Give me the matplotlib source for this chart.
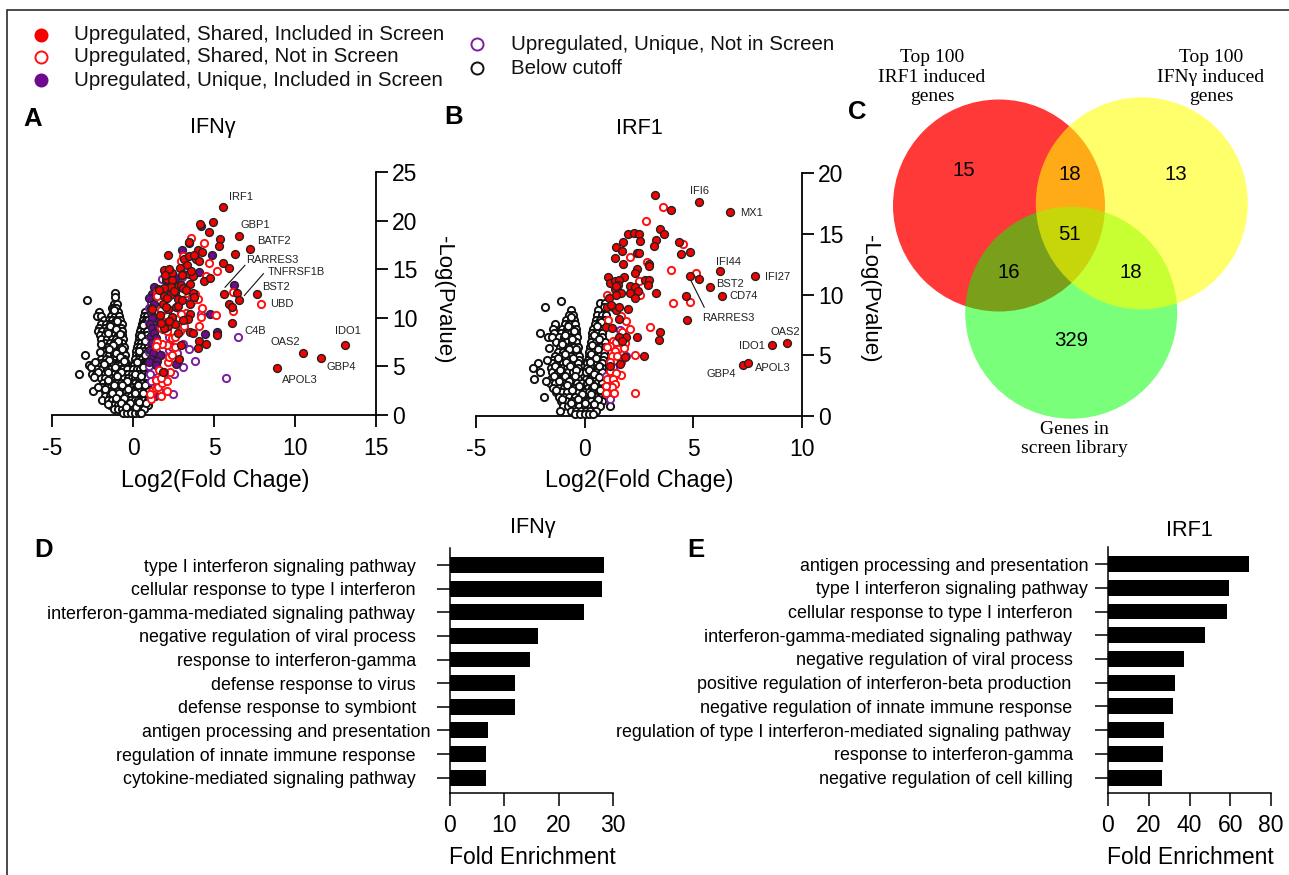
"""Volcano plots, Venn diagram and GO enrichment bars for IFNy / IRF1."""

import matplotlib
matplotlib.use("Agg")
import matplotlib.pyplot as plt
from matplotlib.patches import Circle

plt.rcParams["font.family"] = ["Liberation Sans", "DejaVu Sans"]
plt.rcParams["axes.unicode_minus"] = False

FIG_W, FIG_H = 1289, 875
RED, PURPLE = "#f80000", "#6f0a8f"

# ---- panel A: values
a_red_filled = [
    (5.55, 21.4), (4.16, 19.65), (4.92, 19.9), (4.69, 18.86), (6.52, 18.4), (5.35, 18.1), (3.46, 17.7),
    (5.29, 17.4), (4.03, 17.0), (2.18, 16.5), (7.22, 17.05), (4.28, 16.8), (6.3, 16.6), (3.13, 16.0),
    (3.44, 16.4), (3.89, 16.0), (4.07, 15.8), (3.31, 15.4), (2.9, 15.1), (1.91, 14.9), (2.39, 14.6),
    (3.1, 14.5), (3.46, 14.5), (3.68, 14.3), (2.08, 14.0), (2.43, 13.9), (4.38, 13.75), (4.75, 14.05),
    (3.54, 13.5), (2.76, 13.3), (2.33, 13.2), (1.93, 13.1), (2.6, 12.7), (1.93, 12.2), (5.58, 15.6),
    (5.95, 15.1), (3.48, 17.75), (3.75, 16.5), (2.2, 15.0), (3.0, 14.4), (3.6, 14.8), (2.0, 14.45),
    (2.95, 13.4), (2.3, 12.3), (3.1, 13.1), (3.72, 12.55), (3.74, 12.1), (2.76, 11.9), (3.5, 11.45),
    (1.87, 11.4), (2.1, 12.0), (2.63, 11.15), (2.75, 11.25), (2.18, 10.9), (1.15, 10.9), (1.67, 10.3),
    (3.5, 10.4), (3.4, 9.9), (3.1, 9.8), (2.14, 9.2), (2.6, 9.35), (1.9, 8.9), (2.76, 8.4), (3.5, 8.5),
    (3.68, 8.4), (2.94, 7.2), (4.1, 7.6), (4.0, 6.9), (4.53, 7.3), (5.2, 8.25), (2.82, 5.75), (1.83, 4.45),
    (5.64, 12.4), (6.44, 12.6), (6.52, 11.8), (5.9, 11.4), (6.1, 11.15), (7.65, 12.4), (6.13, 9.5),
    (10.5, 6.4), (11.6, 5.9), (13.1, 7.2), (8.9, 4.85), (2.55, 12.75), (1.6, 12.9), (2.05, 11.1),
    (3.05, 11.8), (2.4, 10.1), (1.75, 9.5), (3.25, 12.9), (2.25, 9.7),
]
a_red_open = [
    (3.56, 18.25), (4.38, 17.65), (4.69, 15.6), (5.18, 14.85), (4.5, 14.25), (6.15, 12.7), (6.2, 10.75),
    (5.12, 10.3), (4.24, 11.0), (4.18, 10.05), (4.1, 9.2), (4.0, 11.9), (3.25, 12.55), (3.06, 16.35),
    (2.94, 15.8), (7.9, 11.4), (1.1, 1.6), (1.2, 2.5), (1.05, 2.2), (1.4, 2.8), (1.55, 2.9), (1.75, 2.0),
    (1.8, 3.3), (2.1, 3.5), (2.1, 2.5), (2.3, 4.4), (1.9, 4.4), (1.45, 3.6), (1.7, 3.8), (2.15, 5.5),
    (2.2, 6.0), (2.4, 6.2), (2.6, 7.0), (2.1, 7.2), (1.8, 7.3), (1.5, 7.5), (1.45, 7.1), (2.1, 8.6),
    (2.4, 7.9), (2.6, 8.0), (2.9, 8.6), (2.0, 9.0), (2.2, 9.7), (1.7, 10.8), (2.1, 10.2), (2.5, 10.5),
    (1.75, 8.9), (1.5, 12.7), (1.5, 12.2), (3.25, 10.5), (3.15, 9.2), (2.95, 10.4), (3.0, 12.6),
    (3.8, 12.4), (3.7, 11.8), (1.6, 4.6),
]
a_purple_filled = [
    (4.18, 19.4), (3.0, 17.0), (4.86, 16.5), (4.07, 14.7), (6.23, 13.4), (4.75, 10.4), (5.18, 8.5),
    (4.44, 8.3), (2.63, 5.2), (1.3, 13.2), (1.15, 12.5), (1.35, 12.2), (1.0, 12.0), (1.3, 11.4),
    (1.1, 10.5), (1.2, 10.0), (1.6, 9.7), (1.05, 9.4), (1.2, 9.0), (1.55, 9.1), (1.85, 8.8), (1.1, 8.1),
    (1.3, 8.4), (1.4, 7.9), (1.15, 7.4), (1.05, 6.7), (1.25, 6.4), (1.65, 6.2), (1.1, 5.8), (1.5, 5.6),
    (1.0, 5.5), (1.4, 5.1), (1.35, 2.0), (2.05, 13.9), (2.2, 14.2), (2.6, 14.0), (1.55, 13.0),
    (1.7, 12.5), (1.1, 11.0),
]
a_purple_open = [
    (1.77, 14.0), (4.2, 10.4), (2.45, 2.2), (2.5, 4.2), (3.1, 4.95), (3.8, 5.6), (3.45, 6.8), (3.1, 7.3),
    (3.2, 12.1), (1.0, 5.0), (1.3, 4.5), (1.5, 5.7), (1.1, 3.5), (1.0, 6.5), (1.7, 6.2), (2.2, 6.7),
    (2.7, 6.4), (2.7, 5.4), (1.05, 8.0), (1.3, 9.4), (1.6, 9.8), (2.2, 8.0), (2.4, 10.0), (1.0, 9.5),
    (1.2, 8.5), (2.4, 7.0), (1.0, 11.0), (1.1, 11.5), (2.35, 12.7), (1.9, 3.8), (3.0, 8.9), (5.76, 3.85),
    (6.5, 8.0), (1.3, 2.0), (1.6, 2.6), (3.0, 14.2), (2.6, 14.2), (1.1, 7.3), (1.4, 6.6), (1.05, 4.2),
]
# below-cutoff points, listed as rows of (y, x values)
a_below_rows = [
    (12.6, [-1.1]), (12.1, [-1.12]), (11.8, [-2.82]), (11.4, [-1.2, -1.0]), (11.0, [-1.3, -1.15, -1.02]),
    (10.6, [-2.1, -1.25, -1.05, -0.9, 0.75]), (10.2, [-2.2, -1.95, -1.35, -1.1, -0.85, 0.65, 0.85]),
    (9.8, [-1.8, -1.5, -1.3, -1.05, -0.8, 0.6, 0.8, 0.95]),
    (9.4, [-2.0, -1.65, -1.4, -1.15, -0.95, -0.7, 0.55, 0.75, 0.95]),
    (9.0, [-2.1, -1.75, -1.5, -1.25, -1.0, -0.75, 0.5, 0.7, 0.9]),
    (8.6, [-2.15, -1.9, -1.6, -1.35, -1.1, -0.85, -0.65, 0.45, 0.65, 0.85]),
    (8.2, [-2.05, -1.75, -1.45, -1.2, -0.95, -0.7, 0.4, 0.6, 0.85]),
    (7.8, [-1.95, -1.6, -1.3, -1.05, -0.8, -0.6, 0.35, 0.55, 0.8]),
    (7.4, [-1.7, -1.4, -1.15, -0.9, -0.65, 0.3, 0.5, 0.75, 0.95]),
    (7.0, [-1.85, -1.55, -1.25, -1.0, -0.75, -0.55, 0.25, 0.45, 0.7, 0.9]),
    (6.6, [-1.9, -1.65, -1.35, -1.1, -0.85, -0.6, 0.2, 0.4, 0.65, 0.9]),
    (6.2, [-2.95, -1.8, -1.5, -1.2, -0.95, -0.7, -0.5, 0.2, 0.4, 0.6, 0.85]),
    (5.8, [-2.0, -1.65, -1.3, -1.05, -0.8, -0.55, 0.15, 0.35, 0.55, 0.8]),
    (5.4, [-2.25, -1.95, -1.7, -1.4, -1.15, -0.9, -0.65, -0.45, 0.1, 0.3, 0.55, 0.8]),
    (5.1, [-2.7, -2.45, -2.15, -1.8, -1.55, -1.25, -1.0, -0.75, -0.5, 0.05, 0.3, 0.5, 0.75]),
    (4.7, [-2.5, -2.2, -1.9, -1.6, -1.35, -1.1, -0.85, -0.6, -0.4, 0.0, 0.25, 0.45, 0.7, 0.95]),
    (4.2, [-3.33, -2.55, -2.3, -2.05, -1.75, -1.45, -1.2, -0.95, -0.7, -0.45, -0.3, -0.05, 0.2, 0.4, 0.65, 0.9]),
    (3.8, [-2.0, -1.7, -1.35, -1.1, -0.8, -0.55, -0.3, -0.08, 0.15, 0.4, 0.6, 0.85]),
    (3.3, [-1.85, -1.55, -1.25, -1.0, -0.75, -0.5, -0.25, -0.05, 0.15, 0.35, 0.6, 0.85]),
    (2.9, [-1.9, -1.6, -1.35, -1.05, -0.8, -0.55, -0.25, 0.0, 0.2, 0.4, 0.6, 0.85]),
    (2.5, [-2.5, -1.75, -1.5, -1.2, -0.95, -0.7, -0.45, -0.2, 0.05, 0.25, 0.45, 0.7, 0.9]),
    (2.0, [-1.7, -1.4, -1.15, -0.9, -0.65, -0.4, -0.15, 0.1, 0.3, 0.55, 0.75, 0.95]),
    (1.5, [-1.9, -1.55, -1.3, -1.05, -0.8, -0.55, -0.3, -0.1, 0.1, 0.3, 0.5, 0.7, 0.9]),
    (1.0, [-1.4, -1.15, -0.9, -0.65, -0.4, -0.15, 0.05, 0.3, 0.5, 0.7, 0.9]),
    (0.6, [-1.2, -0.95, -0.7, -0.45, -0.2, 0.05, 0.3, 0.5, 0.7]),
    (0.2, [-0.6, -0.35, -0.1, 0.1, 0.35, 0.5]),
]
# more of the core of the cloud, between the rows above
a_below_extra = [
    (-1.17, 10.78), (-0.98, 9.62), (-1.42, 9.17), (-1.08, 8.83), (-0.78, 8.38), (-1.52, 8.41), (-0.91, 7.62),
    (-1.21, 7.18), (-1.48, 6.83), (-0.68, 6.81), (-1.07, 6.38), (-0.83, 5.98), (-1.46, 5.63), (-1.76, 5.23),
    (-0.58, 5.59), (-1.12, 4.93), (-0.73, 4.46), (-1.55, 4.42), (-2.18, 4.45), (-0.98, 3.97), (-1.54, 3.58),
    (-0.38, 3.52), (-1.15, 3.11), (-0.68, 3.07), (-1.72, 2.71), (-0.33, 2.72), (-0.88, 2.24), (-1.28, 2.26),
    (-0.53, 1.77), (-1.05, 1.74), (-0.2, 1.27), (-0.74, 1.22), (-0.42, 0.83), (0.18, 0.83), (0.61, 9.23),
    (0.48, 8.12), (0.72, 7.58), (0.38, 6.58), (0.77, 6.17), (0.27, 5.42), (0.62, 4.97), (0.12, 4.24),
    (0.52, 3.98), (0.28, 3.07), (0.73, 3.1), (0.13, 2.22), (0.62, 2.22), (0.38, 1.33), (0.83, 1.24),
    (-2.6, 4.9), (-2.35, 5.5), (-2.4, 3.95), (-2.15, 2.85), (-1.55, 1.12), (-1.95, 7.3), (-2.02, 6.45),
]

# ---- panel B
b_red_filled = [
    (3.24, 18.17), (3.99, 16.94), (5.24, 17.6), (6.68, 16.8), (3.45, 15.36), (3.65, 14.95), (2.0, 14.97),
    (2.29, 15.08), (2.5, 14.95), (1.75, 14.34), (2.53, 14.37), (3.3, 14.48), (3.18, 14.02), (4.33, 14.34),
    (1.44, 13.9), (1.72, 13.6), (2.4, 13.39), (2.52, 13.44), (4.42, 13.3), (4.84, 13.52), (1.4, 12.98),
    (1.77, 12.54), (2.95, 12.54), (2.95, 12.38), (2.4, 12.1), (2.3, 11.8), (1.09, 11.45), (1.83, 11.45),
    (2.79, 11.2), (2.95, 11.17), (1.15, 10.96), (1.38, 11.15), (1.57, 11.17), (1.52, 10.79), (2.07, 10.66),
    (2.3, 10.6), (2.92, 10.79), (1.38, 10.44), (2.44, 10.27), (1.69, 10.11), (1.46, 9.97), (2.1, 10.11),
    (3.3, 10.16), (2.33, 9.73), (1.1, 9.7), (4.65, 9.84), (1.01, 8.96), (1.3, 8.96), (1.46, 8.74),
    (1.58, 8.96), (2.0, 8.83), (1.58, 7.98), (1.0, 7.32), (1.27, 7.21), (3.47, 6.91), (2.41, 6.53),
    (1.92, 6.53), (1.58, 6.48), (1.72, 6.2), (3.42, 6.28), (2.73, 4.95), (1.84, 4.89), (1.63, 4.32),
    (1.18, 4.1), (6.22, 11.9), (7.85, 11.5), (5.77, 10.65), (6.31, 9.84), (4.73, 7.87), (4.84, 11.56),
    (5.24, 11.3), (9.32, 6.04), (8.61, 5.85), (7.28, 4.23), (7.5, 4.37), (1.2, 9.1), (1.45, 10.7),
]
b_red_open = [
    (3.61, 17.21), (2.83, 16.01), (4.53, 14.15), (2.07, 13.11), (2.87, 12.68), (3.96, 12.02), (5.14, 11.8),
    (2.49, 11.07), (2.53, 9.92), (4.07, 9.26), (4.84, 9.4), (1.04, 9.92), (3.02, 7.32), (1.07, 7.92),
    (1.89, 7.81), (2.1, 7.19), (1.66, 8.2), (1.72, 6.91), (1.3, 6.15), (1.15, 5.74), (1.46, 6.07),
    (1.87, 6.01), (1.04, 5.66), (1.55, 5.55), (1.8, 5.6), (1.38, 5.33), (1.27, 4.92), (2.32, 5.0),
    (1.66, 4.45), (1.15, 3.69), (1.66, 3.36), (1.46, 3.55), (1.04, 3.06), (1.3, 3.06), (1.41, 2.6),
    (1.26, 2.38), (1.0, 2.51), (1.0, 1.91), (1.35, 1.91), (2.33, 1.91), (1.15, 4.45), (1.5, 4.9),
]
b_purple_open = [(1.61, 7.1), (1.92, 4.97), (1.46, 3.55), (1.15, 1.37), (1.04, 2.46), (1.0, 3.28), (1.3, 4.0)]
b_below_rows = [
    (9.47, [-1.07]), (9.3, [0.69, 0.95]), (8.94, [-1.81, 0.88]), (8.7, [-0.61, 0.62]),
    (8.3, [-0.72, -0.55, 0.55, 0.78, 0.97]), (7.9, [-0.85, -0.65, -0.5, 0.5, 0.72, 0.92]),
    (7.6, [-1.35, -0.92, -0.72, -0.45, 0.46, 0.68, 0.9]), (7.2, [-1.45, -1.02, -0.8, -0.58, -0.4, 0.4, 0.62, 0.85]),
    (6.8, [-2.07, -1.4, -1.1, -0.88, -0.65, -0.42, 0.36, 0.58, 0.82]),
    (6.5, [-1.69, -1.5, -1.2, -0.95, -0.7, -0.5, -0.35, 0.32, 0.55, 0.8]),
    (6.1, [-1.3, -1.05, -0.82, -0.6, -0.4, 0.28, 0.5, 0.75, 0.95]),
    (5.7, [-1.15, -0.92, -0.7, -0.48, -0.32, 0.25, 0.45, 0.72, 0.93]),
    (5.3, [-1.25, -1.0, -0.78, -0.55, -0.35, 0.2, 0.42, 0.68, 0.9]),
    (4.9, [-1.35, -1.1, -0.85, -0.62, -0.4, -0.25, 0.18, 0.4, 0.65, 0.88]),
    (4.6, [-1.45, -1.2, -0.95, -0.7, -0.48, -0.28, 0.15, 0.36, 0.6, 0.85]),
    (4.33, [-2.15, -1.5, -1.25, -1.0, -0.75, -0.52, -0.3, 0.12, 0.32, 0.58, 0.82]),
    (3.92, [-2.38, -1.55, -1.3, -1.05, -0.8, -0.55, -0.32, 0.1, 0.3, 0.55, 0.8]),
    (3.6, [-2.07, -1.5, -1.25, -1.0, -0.78, -0.52, -0.28, 0.08, 0.28, 0.52, 0.78]),
    (3.05, [-2.33, -1.55, -1.3, -1.05, -0.8, -0.58, -0.3, 0.05, 0.25, 0.5, 0.75, 0.95]),
    (2.7, [-1.6, -1.35, -1.1, -0.85, -0.6, -0.35, -0.1, 0.1, 0.3, 0.55, 0.8]),
    (2.3, [-1.45, -1.2, -0.95, -0.7, -0.45, -0.2, 0.15, 0.35, 0.6, 0.85]),
    (1.95, [-1.3, -1.05, -0.8, -0.55, -0.3, -0.05, 0.2, 0.4, 0.65, 0.9]),
    (1.59, [-1.89, -1.2, -0.95, -0.7, -0.45, -0.2, 0.05, 0.25, 0.5, 0.75, 0.95]),
    (1.2, [-1.1, -0.85, -0.6, -0.35, -0.1, 0.1, 0.3, 0.55, 0.8]),
    (0.85, [-1.0, -0.75, -0.5, -0.25, 0.0, 0.2, 0.45, 0.7, 1.15]),
    (0.45, [-1.15, -0.65, -0.4, -0.15, 0.05, 0.25, 0.5]),
    (0.15, [-0.45, -0.2, 0.0, 0.2, 0.4]),
]
b_below_extra = [
    (-0.64, 8.12), (-0.78, 7.42), (-0.5, 7.03), (-0.92, 6.63), (-0.58, 6.32), (-1.02, 5.91), (-0.7, 5.52),
    (-0.42, 5.48), (-0.9, 5.12), (-1.22, 4.74), (-0.52, 4.77), (-0.85, 4.45), (-1.38, 4.12), (-0.68, 4.13),
    (-0.42, 3.75), (-1.12, 3.77), (-0.9, 3.33), (-1.42, 3.32), (-0.45, 3.27), (-0.72, 2.88), (-1.18, 2.86),
    (-0.25, 2.48), (-0.82, 2.52), (-1.32, 2.12), (-0.58, 2.12), (-0.12, 1.77), (-1.05, 1.43), (-0.32, 1.41),
    (-0.62, 1.03), (0.0, 1.04), (0.75, 7.75), (0.58, 7.4), (0.45, 6.68), (0.68, 6.3), (0.35, 5.88), (0.6, 5.5),
    (0.3, 5.1), (0.52, 4.76), (0.24, 4.47), (0.68, 4.12), (0.2, 3.76), (0.42, 3.42), (0.65, 3.2), (0.18, 2.88),
    (0.42, 2.5), (0.72, 2.13), (0.3, 1.78), (0.62, 1.4), (0.42, 1.0), (-1.72, 4.62), (-1.78, 2.9), (-1.62, 5.6),
]

# ---- panels D and E
d_terms = [
    "type I interferon signaling pathway", "cellular response to type I interferon",
    "interferon-gamma-mediated signaling pathway", "negative regulation of viral process",
    "response to interferon-gamma", "defense response to virus", "defense response to symbiont",
    "antigen processing and presentation", "regulation of innate immune response",
    "cytokine-mediated signaling pathway",
]
d_enrichment = [28.3, 28.0, 24.6, 16.2, 14.7, 12.0, 12.0, 7.0, 6.7, 6.6]
e_terms = [
    "antigen processing and presentation", "type I interferon signaling pathway",
    "cellular response to type I interferon", "interferon-gamma-mediated signaling pathway",
    "negative regulation of viral process", "positive regulation of interferon-beta production",
    "negative regulation of innate immune response",
    "regulation of type I interferon-mediated signaling pathway", "response to interferon-gamma",
    "negative regulation of cell killing",
]
e_enrichment = [69.0, 59.3, 58.5, 47.7, 37.2, 32.7, 31.9, 27.4, 26.8, 26.6]
d_label_right = [416, 415.5, 415, 415.5, 416, 416, 416, 431, 415.5, 416]
e_label_right = [1088, 1088, 1072.5, 1072, 1073, 1071, 1072, 1071, 1073, 1073]

# ---- Venn counts and gene labels
venn_counts = [("15", 964, 171), ("18", 1070, 174), ("13", 1176, 174), ("51", 1069, 234),
               ("16", 1009, 272), ("18", 1131, 272), ("329", 1071, 340)]
a_gene_labels = [
    ("IRF1", 6.67, 22.4), ("GBP1", 7.53, 19.5), ("BATF2", 8.68, 17.85), ("RARRES3", 8.62, 15.9),
    ("TNFRSF1B", 10.1, 14.7), ("BST2", 8.83, 13.15), ("UBD", 9.18, 11.4), ("C4B", 7.55, 8.63),
    ("OAS2", 9.38, 7.47), ("IDO1", 13.29, 8.67), ("GBP4", 12.86, 4.91), ("APOL3", 10.29, 3.62),
]
a_leaders = [((6.91, 15.4), (5.68, 13.14)), ((8.05, 14.54), (6.87, 12.29))]
b_gene_labels = [
    ("IFI6", 5.3, 18.5), ("MX1", 7.66, 16.7), ("IFI44", 6.62, 12.65), ("IFI27", 8.89, 11.48),
    ("BST2", 6.71, 10.9), ("CD74", 7.31, 9.84), ("RARRES3", 6.59, 8.09), ("OAS2", 9.23, 6.91),
    ("IDO1", 7.69, 5.79), ("GBP4", 6.3, 3.42), ("APOL3", 8.68, 3.91),
]
b_leaders = [((4.91, 11.07), (5.5, 8.96))]


def px_axes(fig, left, right, top, bottom):
    # axes box given in image pixels
    return fig.add_axes([left / FIG_W, 1 - bottom / FIG_H, (right - left) / FIG_W, (bottom - top) / FIG_H])


def unzip(points):
    return [p[0] for p in points], [p[1] for p in points]


def draw_volcano(ax, below_rows, below_extra, purple_open, purple_filled, red_open, red_filled,
                 labels, leaders, xlim, ylim, yticks):
    below_x = [x for _, xs in below_rows for x in xs] + [p[0] for p in below_extra]
    below_y = [y for y, xs in below_rows for _ in xs] + [p[1] for p in below_extra]
    kw = dict(s=27, linewidths=1.4, clip_on=False)
    ax.scatter(below_x, below_y, facecolors="white", edgecolors="#111111", zorder=3, **kw)
    if purple_open:
        ax.scatter(*unzip(purple_open), facecolors="white", edgecolors="#7a1fa0", zorder=4, **kw)
    if purple_filled:
        ax.scatter(*unzip(purple_filled), facecolors=PURPLE, edgecolors="#222222", linewidths=1.0, s=32,
                   clip_on=False, zorder=5)
    ax.scatter(*unzip(red_open), facecolors="white", edgecolors="#ff1010", zorder=6, **kw)
    ax.scatter(*unzip(red_filled), facecolors=RED, edgecolors="#222222", linewidths=1.0, s=32,
               clip_on=False, zorder=7)

    for name, x, y in labels:
        ax.text(x, y, name, fontsize=8, ha="center", va="center", color="#222222", zorder=9)
    for start, end in leaders:
        ax.plot([start[0], end[0]], [start[1], end[1]], color="#111111", lw=0.8, zorder=8)

    ax.set_xlim(*xlim)
    ax.set_ylim(*ylim)
    ax.set_xticks(range(xlim[0], xlim[1] + 1, 5))
    ax.set_yticks(yticks)
    ax.spines[["top", "left"]].set_visible(False)
    ax.spines[["right", "bottom"]].set_linewidth(1.3)
    ax.yaxis.tick_right()
    ax.tick_params(axis="both", length=8.5, width=1.3, labelsize=16.5)
    ax.tick_params(axis="x", pad=7.5)
    ax.tick_params(axis="y", pad=3)
    ax.patch.set_alpha(0)


def draw_enrichment(ax, terms, values, xmax, step, label_right, left_px):
    positions = list(range(len(terms)))
    ax.barh(positions, values, height=0.67, color="black")
    ax.set_xlim(0, xmax)
    ax.set_ylim(len(terms) - 1 + 0.65, -0.72)
    ax.set_xticks(range(0, xmax + 1, step))
    ax.set_yticks(positions)
    ax.set_yticklabels(terms)
    ax.spines[["top", "right"]].set_visible(False)
    ax.spines[["left", "bottom"]].set_linewidth(1.1)
    ax.tick_params(axis="x", length=9.5, width=1.1, labelsize=16.5, pad=5.5)
    ax.tick_params(axis="y", length=9.5, width=1.1, labelsize=12.87)
    # every label ends at its own x in the figure, so pad each one
    for tick, right in zip(ax.yaxis.get_major_ticks(), label_right):
        tick.set_pad((left_px - 9.5 * 100 / 72 - right) * 72 / 100)


fig = plt.figure(figsize=(FIG_W / 100, FIG_H / 100), dpi=100)

# overlay in image pixels for frame, legend, Venn diagram and panel letters
bg = fig.add_axes([0, 0, 1, 1])
bg.set_xlim(0, FIG_W)
bg.set_ylim(FIG_H, 0)
bg.axis("off")

bg.plot([1289, 7, 7], [10, 10, 875], color="#2b2b2b", lw=1.2, solid_joinstyle="miter")

legend_left = [
    (35, "Upregulated, Shared, Included in Screen", RED, RED),
    (57, "Upregulated, Shared, Not in Screen", "white", "#ff1010"),
    (80, "Upregulated, Unique, Included in Screen", PURPLE, PURPLE),
]
legend_right = [
    (44, "Upregulated, Unique, Not in Screen", "white", "#7a1fa0"),
    (68, "Below cutoff", "white", "#111111"),
]
for marker_x, text_x, rows in [(41, 74, legend_left), (477, 511, legend_right)]:
    for y, label, face, edge in rows:
        bg.scatter([marker_x], [y], s=75, facecolors=face, edgecolors=edge, linewidths=1.4)
        bg.text(text_x, y, label, fontsize=14.8, va="center", ha="left", color="#111111")

for letter, x, y in [("A", 33, 119), ("B", 454, 117), ("C", 857, 112), ("D", 44, 550), ("E", 696, 550)]:
    bg.text(x, y, letter, fontsize=18.5, fontweight="bold", ha="center", va="center")

bg.add_patch(Circle((999, 205.5), 106, facecolor="#ff0000", alpha=0.78, lw=0))
bg.add_patch(Circle((1071.2, 312.7), 106, facecolor="#00ff00", alpha=0.52, lw=0))
bg.add_patch(Circle((1141.8, 203.3), 106, facecolor="#ffff00", alpha=0.58, lw=0))
for text, x, y in venn_counts:
    bg.text(x, y, text, fontsize=14.7, ha="center", va="center")
serif = dict(family="Liberation Serif", fontsize=14, ha="center", va="center", linespacing=1.18)
bg.text(932, 77, "Top 100\nIRF1 induced\ngenes", **serif)
bg.text(1211, 77, "Top 100\nIFN\u03b3 induced\ngenes", **serif)
bg.text(1074, 439, "Genes in\nscreen library", **serif)

ax_a = px_axes(fig, 52, 376, 172, 415)
draw_volcano(ax_a, a_below_rows, a_below_extra, a_purple_open, a_purple_filled, a_red_open, a_red_filled,
             a_gene_labels, a_leaders, (-5, 15), (0, 25), range(0, 26, 5))
ax_b = px_axes(fig, 476, 802, 173, 416)
draw_volcano(ax_b, b_below_rows, b_below_extra, b_purple_open, [], b_red_open, b_red_filled,
             b_gene_labels, b_leaders, (-5, 10), (0, 20), range(0, 21, 5))

bg.text(213, 128, "IFN\u03b3", fontsize=15.6, ha="center", va="center")
bg.text(639, 128, "IRF1", fontsize=15.6, ha="center", va="center")
for x in (215, 639.5):
    bg.text(x, 480, "Log2(Fold Chage)", fontsize=16.8, ha="center", va="center")
bg.text(443, 300, "-Log(Pvalue)", fontsize=16, rotation=270, ha="center", va="center")
bg.text(870, 299, "-Log(Pvalue)", fontsize=16, rotation=270, ha="center", va="center")

ax_d = px_axes(fig, 450, 613, 548, 793)
draw_enrichment(ax_d, d_terms, d_enrichment, 30, 10, d_label_right, 450)
ax_e = px_axes(fig, 1108, 1271, 547, 793)
draw_enrichment(ax_e, e_terms, e_enrichment, 80, 20, e_label_right, 1108)

bg.text(533, 528, "IFN\u03b3", fontsize=15.6, ha="center", va="center")
bg.text(1189, 530, "IRF1", fontsize=15.6, ha="center", va="center")
bg.text(532, 857, "Fold Enrichment", fontsize=16.5, ha="center", va="center")
bg.text(1190, 858, "Fold Enrichment", fontsize=16.5, ha="center", va="center")

fig.savefig("out.png", dpi=100)
